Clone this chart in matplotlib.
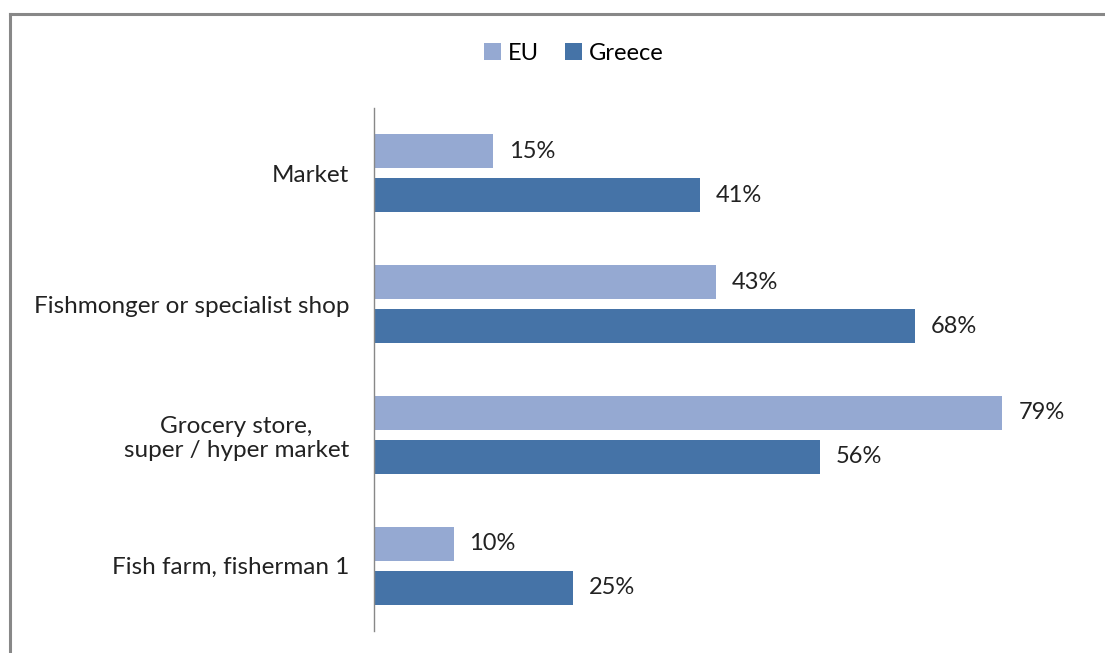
import numpy as np
import matplotlib.pyplot as plt
from matplotlib.lines import Line2D

plt.rcParams['font.family'] = ['Lato', 'DejaVu Sans']

categories = ["Market", "Fishmonger or specialist shop",
              "Grocery store,\nsuper / hyper market", "Fish farm, fisherman 1"]
eu = [15, 43, 79, 10]
greece = [41, 68, 56, 25]

eu_color = "#95a9d2"
gr_color = "#4573a7"

fig = plt.figure(figsize=(11.05, 6.53), dpi=100)

# outer chart frame (only top and left edges fall inside the image)
fig.add_artist(Line2D([10 / 1105, 10 / 1105], [0, 1 - 14 / 653],
                      transform=fig.transFigure, color="#888888", lw=2.2))
fig.add_artist(Line2D([10 / 1105, 1], [1 - 14 / 653, 1 - 14 / 653],
                      transform=fig.transFigure, color="#888888", lw=2.2))

ax = fig.add_axes([374 / 1105, 1 - 631 / 653, (1090 - 374) / 1105, (631 - 108) / 653])

y = np.arange(len(categories))
h = 0.26
off = 0.168
b1 = ax.barh(y - off, eu, height=h, color=eu_color, label="EU")
b2 = ax.barh(y + off, greece, height=h, color=gr_color, label="Greece")

for bars, vals in ((b1, eu), (b2, greece)):
    for bar, v in zip(bars, vals):
        ax.text(v + 2.0, bar.get_y() + bar.get_height() / 2, f"{v}%",
                va="center", ha="left", fontsize=17, color="#222222")

ax.set_xlim(0, 90)
ax.set_ylim(3.5, -0.5)
ax.set_yticks(y)
ax.set_yticklabels(categories, fontsize=17.5, color="#222222", ha="right",
                   multialignment="center")
ax.tick_params(axis="y", length=0, pad=18)
ax.set_xticks([])
for s in ("top", "right", "bottom"):
    ax.spines[s].set_visible(False)
ax.spines["left"].set_color("#888888")
ax.spines["left"].set_linewidth(1.0)

fig.legend(handles=[b1, b2], loc="center", bbox_to_anchor=(574 / 1105, 1 - 53 / 653),
           ncol=2, frameon=False, fontsize=17, handlelength=0.7, handleheight=0.7,
           handletextpad=0.3, columnspacing=1.1)

fig.savefig("out.png", dpi=100)
